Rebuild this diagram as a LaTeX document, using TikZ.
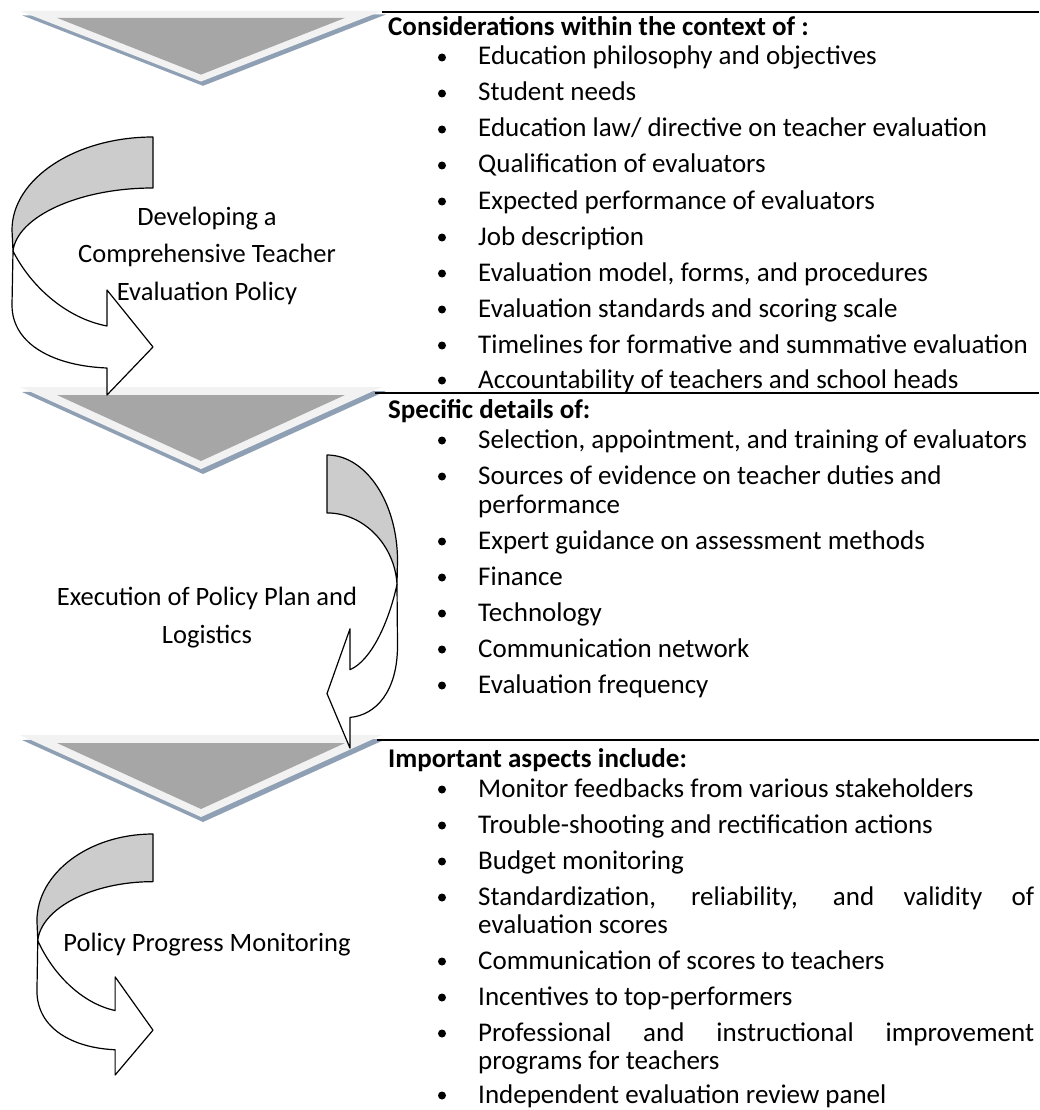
\documentclass[tikz,border=0pt]{standalone}
\usepackage{fontspec}
\setmainfont{Carlito}
\definecolor{chevlight}{RGB}{242,242,242}
\definecolor{chevshadow}{RGB}{143,160,180}
\definecolor{chevdark}{RGB}{166,166,166}
\definecolor{backgray}{RGB}{204,204,204}
\begin{document}
\begin{tikzpicture}[x=1pt,y=-1pt,
  rule/.style={line width=2pt, black},
  head/.style={anchor=base west, inner sep=0pt, font=\bfseries\fontsize{27}{32}\selectfont},
  item/.style={anchor=base west, inner sep=0pt, font=\fontsize{27}{32}\selectfont},
  lab/.style={anchor=base, inner sep=0pt, align=center, font=\fontsize{26.5}{37.5}\selectfont},
  arrowline/.style={line width=1.2pt, line join=round, draw=black},
  bentarrow/.pic={
    % rear half of the band (shaded)
    \filldraw[arrowline, fill=backgray]
      (0,0) .. controls (78,0) and (141,42) .. (141,93)
      -- (140,114)
      .. controls (136,80) and (75,51) .. (0,51) -- cycle;
    % front half of the band with its head
    \filldraw[arrowline, fill=white]
      (140,114) -- (141,168)
      .. controls (141,208) and (98,229) .. (46,231)
      -- (46,258) -- (0,210) -- (46,153) -- (46,189)
      .. controls (88,181) and (123,148) .. (140,114) -- cycle;
  },
  chevron/.pic={
    \fill[chevshadow] (-179,5) -- (185,4) -- (2,87) -- cycle;
    \fill[chevlight] (-181,0) -- (181,0) -- (0,82) -- cycle;
    \fill[chevdark] (-144,8) -- (144,8) -- (0,74) -- cycle;
  }
]
\fill[white] (0,0) rectangle (1039,1110);
\useasboundingbox (0,0) rectangle (1039,1110);

% stage chevrons
\pic[yscale=0.86] at (201,11) {chevron};
\pic at (201,387) {chevron};
\pic at (201,735) {chevron};

% rules above each block of text
\coordinate (r1a) at (382,12);  \coordinate (r1b) at (1039,12);
\coordinate (r2a) at (375,393); \coordinate (r2b) at (1039,393);
\coordinate (r3a) at (377,740); \coordinate (r3b) at (1039,740);
\draw[rule] (r1a) -- (r1b);
\draw[rule] (r2a) -- (r2b);
\draw[rule] (r3a) -- (r3b);

% curved arrows
\pic[xscale=-1] at (153,137) {bentarrow};
\pic[xscale=0.5, yscale=1.136] at (327,455) {bentarrow};
\pic[xscale=-0.823, yscale=0.934] at (153,834) {bentarrow};

% stage labels (anchored on the baseline of their last line)
\node[lab] (s1) at (207,300) {Developing a\\Comprehensive Teacher\\Evaluation Policy};
\node[lab] (s2) at (207,643) {Execution of Policy Plan and\\Logistics};
\node[lab] (s3) at (207,951) {Policy Progress Monitoring};

\newcommand\itm[3]{\fill (442,#2-7.5) circle[radius=4];
  \node[item] (#1) at (478,#2) {#3};}

% block 1
\node[head] (h1) at (388,36) {Considerations within the context of :};
\itm{a1}{65}{Education philosophy and objectives}
\itm{a2}{101}{Student needs}
\itm{a3}{137}{Education law/ directive on teacher evaluation}
\itm{a4}{173}{Qualification of evaluators}
\itm{a5}{209}{Expected performance of evaluators}
\itm{a6}{245}{Job description}
\itm{a7}{281}{Evaluation model, forms, and procedures}
\itm{a8}{317}{Evaluation standards and scoring scale}
\itm{a9}{353}{Timelines for formative and summative evaluation}
\itm{a10}{388}{Accountability of teachers and school heads}

% block 2
\node[head] (h2) at (388,418) {Specific details of:};
\itm{b1}{448}{Selection, appointment, and training of evaluators}
\itm{b2}{484}{Sources of evidence on teacher duties and}
\node[item] (b2c) at (478,513) {performance};
\itm{b3}{549}{Expert guidance on assessment methods}
\itm{b4}{585}{Finance}
\itm{b5}{621}{Technology}
\itm{b6}{657}{Communication network}
\itm{b7}{693}{Evaluation frequency}

% block 3
\node[head] (h3) at (388,767) {Important aspects include:};
\itm{c1}{797}{Monitor feedbacks from various stakeholders}
\itm{c2}{833}{Trouble-shooting and rectification actions}
\itm{c3}{869}{Budget monitoring}
\itm{c4}{905}{\makebox[556pt][s]{Standardization, reliability, and validity of}}
\node[item] (c4c) at (478,933) {evaluation scores};
\itm{c5}{969}{Communication of scores to teachers}
\itm{c6}{1005}{Incentives to top-performers}
\itm{c7}{1041}{\makebox[556pt][s]{Professional and instructional improvement}}
\node[item] (c7c) at (478,1069) {programs for teachers};
\itm{c8}{1103}{Independent evaluation review panel}
\end{tikzpicture}
\end{document}
